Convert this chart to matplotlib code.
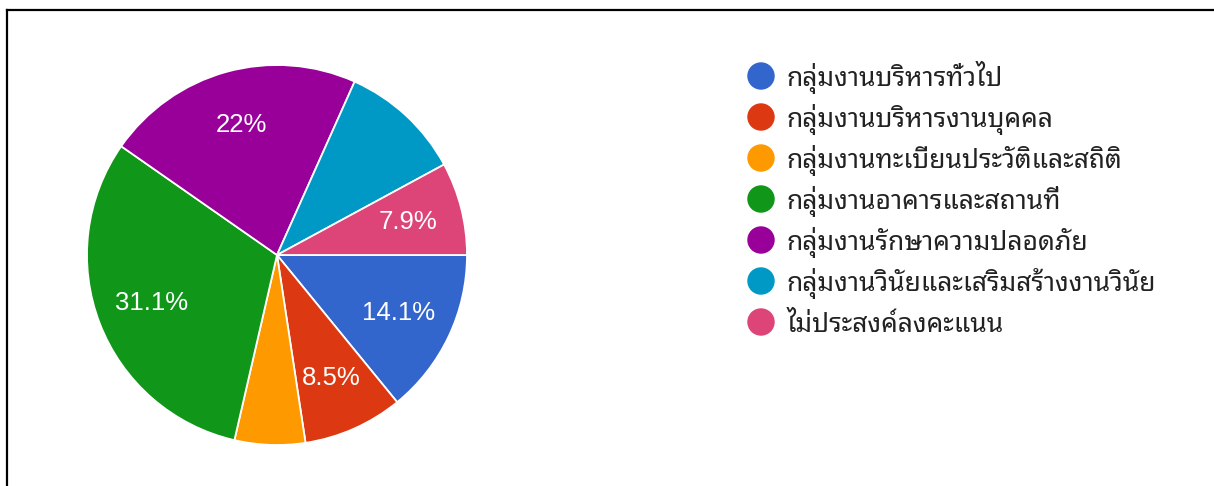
import matplotlib
matplotlib.use("Agg")
import matplotlib.pyplot as plt
import numpy as np
from matplotlib.lines import Line2D

categories = [
    "กลุ่มงานบริหารทั่วไป",
    "กลุ่มงานบริหารงานบุคคล",
    "กลุ่มงานทะเบียนประวัติและสถิติ",
    "กลุ่มงานอาคารและสถานที่",
    "กลุ่มงานรักษาความปลอดภัย",
    "กลุ่มงานวินัยและเสริมสร้างงานวินัย",
    "ไม่ประสงค์ลงคะแนน",
]
shares = [14.1, 8.5, 6.0, 31.1, 22.0, 10.4, 7.9]
pct_labels = ["14.1%", "8.5%", "", "31.1%", "22%", "", "7.9%"]
colors = ["#3366cc", "#dc3912", "#ff9900", "#109618", "#990099", "#0099c6", "#dd4477"]

W, H = 1214, 486
fig = plt.figure(figsize=(W / 100, H / 100), dpi=100)

# pie axes: centre ~ (277, 255) px, radius ~ 190 px
cx, cy, r = 277, 255, 190
ax = fig.add_axes([(cx - r) / W, (H - cy - r) / H, 2 * r / W, 2 * r / H])
wedges, _ = ax.pie(shares, colors=colors, startangle=0, counterclock=False,
                   radius=1, wedgeprops=dict(edgecolor="white", linewidth=1.3))
ax.set_xlim(-1, 1)
ax.set_ylim(-1, 1)
ax.set_aspect("equal")
ax.axis("off")

for w, lab in zip(wedges, pct_labels):
    if not lab:
        continue
    mid = np.deg2rad((w.theta1 + w.theta2) / 2)
    ax.text(0.71 * np.cos(mid), 0.71 * np.sin(mid), lab, ha="center", va="center",
            color="white", fontsize=18.5, family=["Liberation Sans", "DejaVu Sans"])

# legend drawn in its own axes, one row per category (row pitch ~41 px)
lx0, ly0, lw, lh = 740, 55, 460, 290
lax = fig.add_axes([lx0 / W, (H - ly0 - lh) / H, lw / W, lh / H])
lax.set_xlim(0, lw)
lax.set_ylim(lh, 0)
lax.axis("off")
rows = np.arange(len(categories))
row_y = 21 + 41 * rows
lax.scatter(np.full(len(rows), 21), row_y, s=26 ** 2 * 0.52, c=colors, clip_on=False)
for y, name in zip(row_y, categories):
    lax.text(47, y + 10, name, ha="left", va="baseline", color="#222222",
             fontsize=19, family=["Noto Sans Thai Looped", "DejaVu Sans"])

# frame lines (top and left)
fig.add_artist(Line2D([7 / W, 1], [1 - 10 / H, 1 - 10 / H], color="black", linewidth=1.6,
                      transform=fig.transFigure))
fig.add_artist(Line2D([7 / W, 7 / W], [0, 1 - 10 / H], color="black", linewidth=1.6,
                      transform=fig.transFigure))

fig.savefig("out.png", dpi=100, facecolor="white")
